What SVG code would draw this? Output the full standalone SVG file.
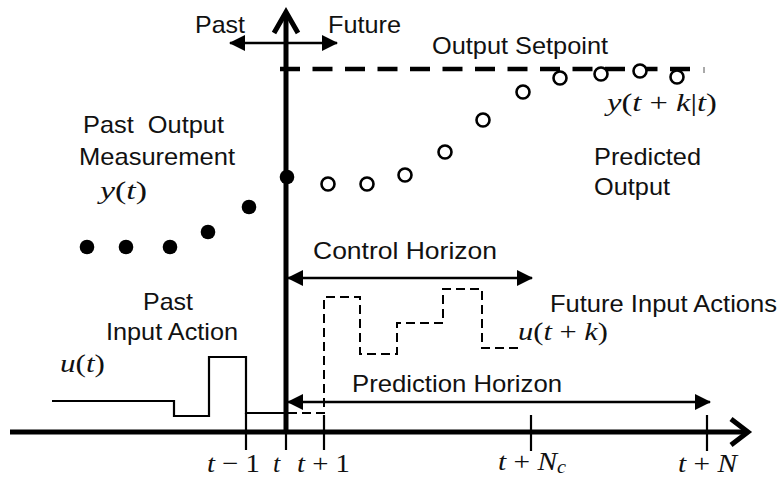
<svg xmlns="http://www.w3.org/2000/svg" width="780" height="479" viewBox="0 0 780 479">
<style>
.lbl{font-family:"Liberation Sans",Arial,sans-serif;font-size:24px;fill:#111}
.math{font-family:"Liberation Serif","DejaVu Serif",serif;font-size:26px;fill:#111}
.i{font-style:italic}
.axis{stroke:#000;stroke-width:5;fill:none}
.thin{stroke:#000;stroke-width:2.2;fill:none}
.dash{stroke:#000;stroke-width:2;fill:none;stroke-dasharray:9 5}
.open{fill:#fff;stroke:#000;stroke-width:2.6}
.dot{fill:#000}
</style>
<defs>
<marker id="ah" viewBox="0 0 16 16" refX="15" refY="8" markerWidth="16" markerHeight="16" markerUnits="userSpaceOnUse" orient="auto-start-reverse">
<path d="M0,0 L16,8 L0,16 Z" fill="#000"/>
</marker>
</defs>
<rect width="780" height="479" fill="#fff"/>

<g id="axes">
<line class="axis" x1="10" y1="432" x2="747" y2="432"/>
<polyline class="axis" points="731,419 748,432 731,445"/>
<line class="axis" x1="286" y1="13" x2="286" y2="434"/>
<polyline class="axis" points="274,33 286,12 298,33"/>
<line class="thin" x1="246" y1="413" x2="246" y2="450"/>
<line class="thin" x1="286" y1="415" x2="286" y2="450"/>
<line class="thin" x1="324" y1="415" x2="324" y2="450"/>
<line class="thin" x1="531" y1="415" x2="531" y2="451"/>
<line class="thin" x1="707" y1="415" x2="707" y2="451"/>
</g>

<g id="setpoint">
<line x1="280" y1="69" x2="690" y2="69" stroke="#000" stroke-width="4.5" stroke-dasharray="20 12.5"/>
<line x1="704" y1="67" x2="704" y2="73" stroke="#555" stroke-width="1"/>
<text class="lbl" x="432" y="54" textLength="176" lengthAdjust="spacingAndGlyphs">Output Setpoint</text>
</g>

<g id="past-output">
<circle class="dot" cx="87" cy="247" r="7.3"/>
<circle class="dot" cx="126" cy="247" r="7.3"/>
<circle class="dot" cx="170" cy="247" r="7.3"/>
<circle class="dot" cx="208" cy="232" r="7.3"/>
<circle class="dot" cx="249" cy="207" r="7.3"/>
<circle class="dot" cx="287" cy="177" r="7.3"/>
<text class="lbl" x="83" y="133" textLength="141" lengthAdjust="spacingAndGlyphs" xml:space="preserve">Past  Output</text>
<text class="lbl" x="79" y="165" textLength="156" lengthAdjust="spacingAndGlyphs">Measurement</text>
<text class="math" x="100" y="199" textLength="47" lengthAdjust="spacingAndGlyphs"><tspan class="i">y</tspan>(<tspan class="i">t</tspan>)</text>
</g>

<g id="predicted-output">
<circle class="open" cx="328" cy="184" r="6.5"/>
<circle class="open" cx="367" cy="184" r="6.5"/>
<circle class="open" cx="405" cy="175" r="6.5"/>
<circle class="open" cx="445" cy="152" r="6.5"/>
<circle class="open" cx="483" cy="120" r="6.5"/>
<circle class="open" cx="523" cy="92" r="6.5"/>
<circle class="open" cx="560" cy="78" r="6.5"/>
<circle class="open" cx="601" cy="74" r="6.5"/>
<circle class="open" cx="640" cy="71" r="6.5"/>
<circle class="open" cx="677" cy="77" r="6.5"/>
<text class="math" x="607" y="111" textLength="110" lengthAdjust="spacingAndGlyphs" xml:space="preserve"><tspan class="i">y</tspan>(<tspan class="i">t</tspan> + <tspan class="i">k</tspan>|<tspan class="i">t</tspan>)</text>
<text class="lbl" x="594" y="165" textLength="107" lengthAdjust="spacingAndGlyphs">Predicted</text>
<text class="lbl" x="594" y="195" textLength="76" lengthAdjust="spacingAndGlyphs">Output</text>
</g>

<g id="past-input">
<polyline class="thin" points="52,401 174,401 174,416 209,416 209,357 246,357 246,413 287,413"/>
<text class="lbl" x="143" y="310" textLength="50" lengthAdjust="spacingAndGlyphs">Past</text>
<text class="lbl" x="106" y="340" textLength="132" lengthAdjust="spacingAndGlyphs">Input Action</text>
<text class="math" x="60" y="372" textLength="45" lengthAdjust="spacingAndGlyphs"><tspan class="i">u</tspan>(<tspan class="i">t</tspan>)</text>
</g>

<g id="future-input">
<polyline class="dash" points="288,413 324,413 324,297 360,297 360,354 397,354 397,323 443,323 443,289 482,289 482,348 518,348"/>
<text class="lbl" x="550" y="312" textLength="227" lengthAdjust="spacingAndGlyphs">Future Input Actions</text>
<text class="math" x="518" y="340" textLength="90" lengthAdjust="spacingAndGlyphs" xml:space="preserve"><tspan class="i">u</tspan>(<tspan class="i">t</tspan> + <tspan class="i">k</tspan>)</text>
</g>

<g id="connectors">
<line x1="230" y1="43" x2="337" y2="43" stroke="#000" stroke-width="2.5" marker-start="url(#ah)" marker-end="url(#ah)"/>
<line x1="288" y1="278" x2="532" y2="278" stroke="#000" stroke-width="2.5" marker-start="url(#ah)" marker-end="url(#ah)"/>
<line x1="288" y1="402" x2="710" y2="402" stroke="#000" stroke-width="2.5" marker-start="url(#ah)" marker-end="url(#ah)"/>
</g>

<g id="labels">
<text class="lbl" x="195" y="33" textLength="50" lengthAdjust="spacingAndGlyphs">Past</text>
<text class="lbl" x="328" y="33" textLength="73" lengthAdjust="spacingAndGlyphs">Future</text>
<text class="lbl" x="313" y="259" textLength="184" lengthAdjust="spacingAndGlyphs">Control Horizon</text>
<text class="lbl" x="352" y="392" textLength="210" lengthAdjust="spacingAndGlyphs">Prediction Horizon</text>
</g>

<g id="tick-labels">
<text class="math" x="207" y="472" textLength="53" lengthAdjust="spacingAndGlyphs" xml:space="preserve"><tspan class="i">t</tspan> − 1</text>
<text class="math i" x="273" y="472">t</text>
<text class="math" x="297" y="472" textLength="53" lengthAdjust="spacingAndGlyphs" xml:space="preserve"><tspan class="i">t</tspan> + 1</text>
<text class="math" x="498" y="470" textLength="68" lengthAdjust="spacingAndGlyphs" xml:space="preserve"><tspan class="i">t</tspan> + <tspan class="i">N</tspan><tspan class="i" font-size="18" dy="3">c</tspan></text>
<text class="math" x="678" y="472" textLength="59" lengthAdjust="spacingAndGlyphs" xml:space="preserve"><tspan class="i">t</tspan> + <tspan class="i">N</tspan></text>
</g>
</svg>
